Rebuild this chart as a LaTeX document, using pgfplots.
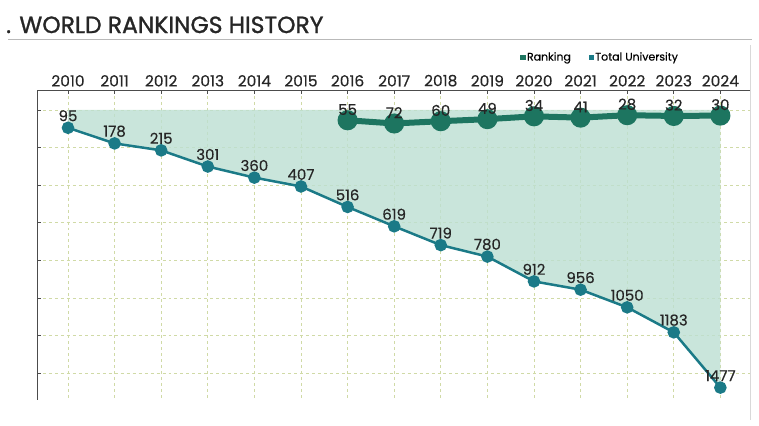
\documentclass[border=0pt]{standalone}
\usepackage{pgfplots}
\pgfplotsset{compat=1.18}
\usepackage{fontspec}
\setmainfont{Poppins}[FakeBold=0.35]
\newfontfamily\titlefont{Poppins}[FakeBold=1.2]
\definecolor{fillc}{HTML}{BCDFD2}
\definecolor{totc}{HTML}{1B7A87}
\definecolor{rankc}{HTML}{1D7560}
\definecolor{gridc}{HTML}{D0DAA6}
\pgfplotstableread{
x y label
2010 95 95
2011 178 178
2012 215 215
2013 301 301
2014 360 360
2015 407 407
2016 516 516
2017 619 619
2018 719 719
2019 780 780
2020 912 912
2021 956 956
2022 1050 1050
2023 1183 1183
2024 1477 1477
}\totaltable
\pgfplotstableread{
x y label
2016 55 55
2017 72 72
2018 60 60
2019 49 49
2020 34 34
2021 41 41
2022 28 28
2023 32 32
2024 30 30
}\ranktable
\begin{document}
\begin{tikzpicture}[x=1bp,y=1bp]
\path[use as bounding box] (0,0) rectangle (759,-425);
\node[anchor=base west, inner sep=0pt, font=\titlefont\fontsize{23.5}{26}\selectfont, text=black!85] at (6,-33) {. WORLD RANKINGS HISTORY};
\draw[gray!55, line width=0.8bp] (8,-39) -- (752,-39);
\draw[gray!30, line width=0.6bp] (750,-45) -- (750,-420);
\begin{axis}[
  at={(37bp,-400bp)}, anchor=south west, scale only axis,
  width=713bp, height=310bp,
  xmin=2009.335, xmax=2024.636, ymin=-106, ymax=1543, y dir=reverse,
  axis x line*=top, axis y line*=left,
  xtick={2010,2011,...,2024},
  xticklabels={2010,2011,2012,2013,2014,2015,2016,2017,2018,2019,2020,2021,2022,2023,2024},
  ytick={0,200,...,1400}, yticklabels={},
  grid=major, major grid style={dashed, gridc, line width=0.7bp},
  x tick label style={font=\fontsize{15.5}{17}\selectfont, text=black!85},
  axis line style={black!70, line width=0.8bp},
  tick style={black!70, line width=0.8bp}, major tick length=4bp,
  /pgf/number format/assume math mode=true,
  clip=false,
  legend style={at={(0.79,1.106)}, anchor=center, draw=none, fill=none,
    font=\fontsize{11}{13}\selectfont, legend columns=2,
    /tikz/every even column/.append style={column sep=16bp}},
  legend cell align=left,
]
\addlegendimage{only marks, mark=square*, mark size=2.2bp, rankc}
\addlegendentry{Ranking}
\addlegendimage{only marks, mark=square*, mark size=2.2bp, totc}
\addlegendentry{Total University}
\addplot[fill=fillc, fill opacity=0.8, draw=none, forget plot] table[x=x,y=y] {\totaltable} \closedcycle;
\addplot[totc, line width=2.5bp, mark=*, mark size=5bp, mark options={fill=totc, draw=totc},
  nodes near coords, point meta=explicit symbolic,
  nodes near coords style={font=\fontsize{15}{17}\selectfont, text=black!85, anchor=south, yshift=2bp},
  forget plot] table[x=x,y=y,meta=label] {\totaltable};
\addplot[rankc, line width=6bp, mark=*, mark size=7bp, mark options={fill=rankc, draw=rankc},
  nodes near coords, point meta=explicit symbolic,
  nodes near coords style={font=\fontsize{15}{17}\selectfont, text=black!85, anchor=south, yshift=-1bp},
  forget plot] table[x=x,y=y,meta=label] {\ranktable};
\end{axis}
\end{tikzpicture}
\end{document}
